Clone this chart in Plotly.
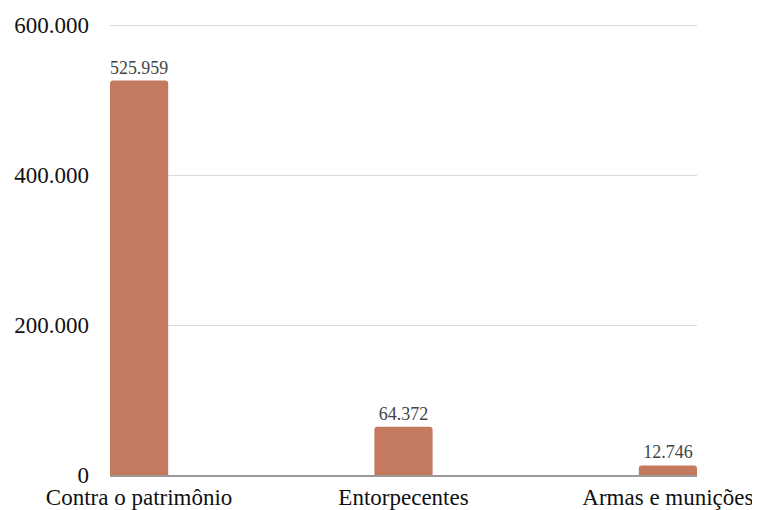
import plotly.graph_objects as go

categories = ["Contra o patrimônio", "Entorpecentes", "Armas e munições"]
values = [525959, 64372, 12746]
tick_vals = [0, 200000, 400000, 600000]

SERIF = "Liberation Serif"

fig = go.Figure()
fig.add_trace(go.Bar(
    x=list(range(len(categories))),
    y=values,
    width=0.22,
    marker=dict(color="#c47a5e", cornerradius=3, line=dict(width=0)),
    texttemplate="%{y:,d}",
    textposition="outside",
    textfont=dict(family=SERIF, size=18, color="#444444"),
    cliponaxis=False,
))

fig.update_layout(
    width=752, height=502,
    margin=dict(l=102, r=63, t=14, b=35),
    paper_bgcolor="white", plot_bgcolor="white",
    separators=",.",
    showlegend=False,
    font=dict(family=SERIF, size=23, color="#111111"),
    xaxis=dict(
        automargin=False,
        range=[-0.11, 2.11],
        tickmode="array",
        tickvals=list(range(len(categories))),
        ticktext=categories,
        showgrid=False,
        zeroline=False,
        showline=True, linecolor="#999999", linewidth=1.5,
        ticks="", tickfont=dict(family=SERIF, size=23, color="#111111"),
        ticklabelstandoff=1,
    ),
    yaxis=dict(
        automargin=False,
        range=[0, 604000],
        tickvals=tick_vals,
        tickformat=",d",
        showgrid=True, gridcolor="#d9d9d9", gridwidth=1,
        zeroline=False,
        showline=False,
        ticks="", tickfont=dict(family=SERIF, size=23, color="#111111"),
        ticklabelstandoff=20,
    ),
)

fig.write_html("out.html")
